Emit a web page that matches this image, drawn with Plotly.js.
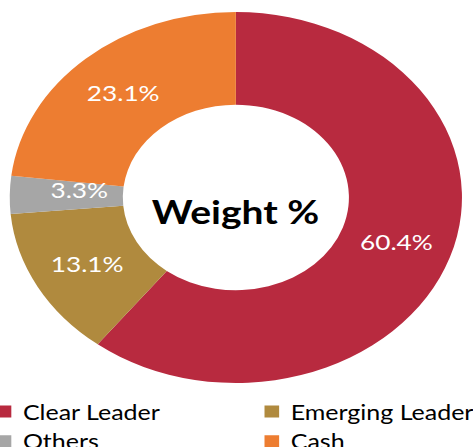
<!DOCTYPE html>
<html>
<head>
<meta charset="utf-8">
<script src="https://cdn.plot.ly/plotly-3.0.1.min.js"></script>
<style>
html,body{margin:0;padding:0;overflow:hidden;background:#fff;width:473px;height:447px;}
#wrap{width:473px;height:447px;overflow:hidden;position:relative;}
#chart{position:absolute;left:-30px;top:0;width:560px;height:480px;transform:scaleX(1.219);transform-origin:0 0;}
</style>
</head>
<body>
<div id="wrap"><div id="chart"></div></div>
<script>
const categories = ["Clear Leader", "Emerging Leader", "Others", "Cash"];
const weights = [60.4, 13.1, 3.3, 23.1];
const sliceLabels = ["60.4%", "13.1%", "3.3%", "23.1%"];
const colors = ["#B82A3F", "#B08A3E", "#A6A6A6", "#ED7D31"];
const centerText = "Weight %";

const FONT = "Lato, 'Open Sans', sans-serif";
const W = 560, H = 480;
const dom = {x: [0.0582, 0.7207], y: [0.2021, 0.975]};
const labelFont = {family: FONT, size: 21.5, color: "#ffffff"};

// small slices get their label placed at the slice's mid-angle (horizontal), like the reference
const small = weights.map(v => v < 5);
const positions = small.map(s => s ? "none" : "inside");

const total = weights.reduce((a, b) => a + b, 0);
const cxPx = (dom.x[0] + dom.x[1]) / 2 * W;
const cyPx = (1 - (dom.y[0] + dom.y[1]) / 2) * H;
const R = Math.min((dom.x[1] - dom.x[0]) * W, (dom.y[1] - dom.y[0]) * H) / 2;
const annotations = [{
  text: "<b>" + centerText + "</b>",
  x: cxPx / W, y: 1 - (cyPx + 14) / H, xref: "paper", yref: "paper",
  xanchor: "center", yanchor: "middle",
  showarrow: false,
  font: {size: 32, color: "#000000", family: FONT}
}];
let cum = 0;
weights.forEach(function(v, i){
  const mid = (cum + v / 2) / total * 2 * Math.PI;
  cum += v;
  if (!small[i]) return;
  const r = 0.695 * R;
  const px = cxPx + r * Math.sin(mid);
  const py = cyPx - r * Math.cos(mid);
  annotations.push({
    text: sliceLabels[i], x: px / W, y: 1 - py / H, xref: "paper", yref: "paper",
    xanchor: "center", yanchor: "middle",
    showarrow: false, yshift: 6, font: labelFont
  });
});

const data = [{
  type: "pie",
  labels: categories,
  values: weights,
  text: sliceLabels,
  textinfo: "text",
  textposition: positions,
  insidetextorientation: "horizontal",
  insidetextfont: labelFont,
  hole: 0.5,
  sort: false,
  direction: "clockwise",
  rotation: 0,
  marker: {colors: colors, line: {width: 0}},
  domain: dom,
  hoverinfo: "label+percent"
}];

const layout = {
  width: W,
  height: H,
  margin: {l: 0, r: 0, t: 0, b: 0},
  paper_bgcolor: "#ffffff",
  font: {family: FONT, color: "#000000"},
  showlegend: true,
  legend: {
    orientation: "h",
    x: 0.0141, xanchor: "left",
    y: 0.184, yanchor: "top",
    entrywidth: 174.7, entrywidthmode: "pixels",
    font: {size: 20.5, color: "#000000"},
    traceorder: "normal",
    itemclick: false
  },
  annotations: annotations
};

Plotly.newPlot("chart", data, layout, {displayModeBar: false, staticPlot: true}).then(function(gd){
  gd.querySelectorAll(".legend .legendtext").forEach(function(t){
    t.setAttribute("x", (parseFloat(t.getAttribute("x")) || 0) - 4.5);
  });
});
</script>
</body>
</html>
